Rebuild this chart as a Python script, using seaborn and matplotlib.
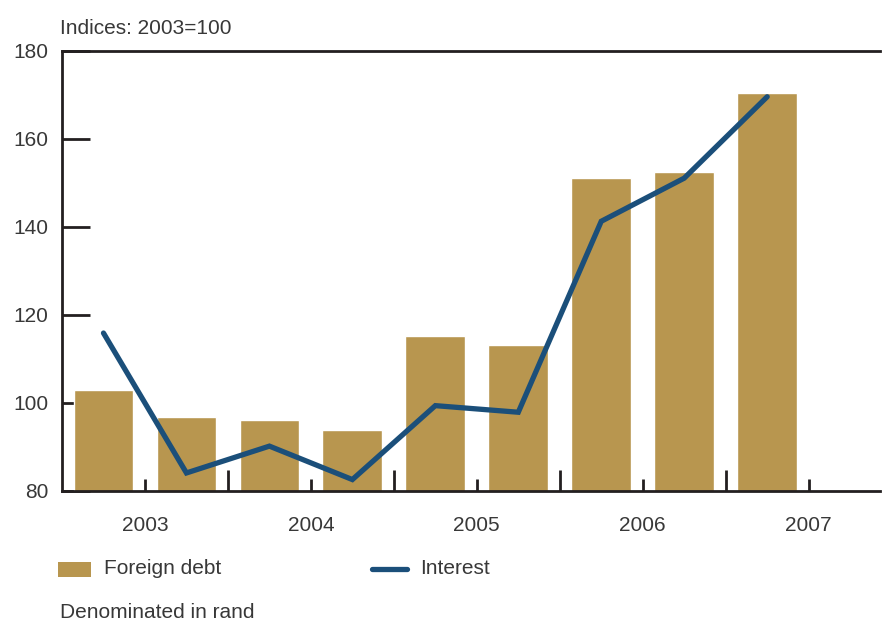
import matplotlib
matplotlib.use("Agg")
import matplotlib.pyplot as plt
import seaborn as sns
import pandas as pd
from matplotlib.patches import Rectangle
from matplotlib.lines import Line2D

# Half-yearly periods, 2003 H1 to 2007 H1
periods = ["2003H1", "2003H2", "2004H1", "2004H2", "2005H1",
           "2005H2", "2006H1", "2006H2", "2007H1"]
foreign_debt = [103.0, 96.9, 96.1, 93.9, 115.2, 113.2, 151.1, 152.4, 170.4]
interest = [115.9, 84.1, 90.2, 82.6, 99.4, 97.9, 141.3, 151.1, 169.6]
year_labels = ["2003", "2004", "2005", "2006", "2007"]
y_ticks = [80, 100, 120, 140, 160, 180]

BAR = "#B8964F"
LINE = "#1B4F7A"
TEXT = "#383838"
AXIS = "#231F20"
FS = 15

sns.set_theme(style="white")
plt.rcParams["font.family"] = ["Liberation Sans", "DejaVu Sans"]

df = pd.DataFrame({"period": periods, "debt": foreign_debt,
                   "interest": interest, "pos": range(len(periods))})

fig = plt.figure(figsize=(8.82, 6.22), dpi=100)
ax = fig.add_axes([62 / 882, 1 - 491 / 622, 818 / 882, 440 / 622])

sns.barplot(data=df, x="period", y="debt", order=periods, color=BAR,
            saturation=1, width=0.72, ax=ax, zorder=2)
sns.lineplot(data=df, x="pos", y="interest", color=LINE, linewidth=3.8,
             ax=ax, zorder=3, solid_capstyle="round", solid_joinstyle="miter")

ax.set_xlim(-0.5, 9.36)
ax.set_ylim(80, 180)
ax.set_xlabel("")
ax.set_ylabel("")

# Year labels sit mid-year; longer ticks mark the year boundaries
ax.set_xticks([0.5, 2.5, 4.5, 6.5, 8.5])
ax.set_xticklabels(year_labels)
ax.set_xticks([1.5, 3.5, 5.5, 7.5], minor=True)
ax.tick_params(axis="x", which="major", direction="in", length=9, width=2,
               color=AXIS, labelsize=FS, labelcolor=TEXT, pad=18, bottom=True)
ax.tick_params(axis="x", which="minor", direction="in", length=15, width=2,
               color=AXIS, bottom=True)

ax.set_yticks(y_ticks)
ax.tick_params(axis="y", which="major", direction="in", length=20, width=2,
               color=AXIS, labelsize=FS, labelcolor=TEXT, pad=10, left=True)

for side in ["left", "bottom", "top"]:
    ax.spines[side].set_visible(True)
    ax.spines[side].set_color(AXIS)
    ax.spines[side].set_linewidth(2)
ax.spines["right"].set_visible(False)

fig.text(60 / 882, 1 - 28 / 622, "Indices: 2003=100", fontsize=FS,
         color=TEXT, va="center", ha="left")

# Legend row
fig.add_artist(Rectangle((58 / 882, 1 - 577 / 622), 33 / 882, 15 / 622,
                         transform=fig.transFigure, color=BAR, lw=0))
fig.text(104 / 882, 1 - 569 / 622, "Foreign debt", fontsize=FS,
         color=TEXT, va="center", ha="left")
fig.add_artist(Line2D([372 / 882, 407 / 882], [1 - 569 / 622, 1 - 569 / 622],
                      transform=fig.transFigure, color=LINE, linewidth=3.8))
fig.text(420 / 882, 1 - 569 / 622, "Interest", fontsize=FS,
         color=TEXT, va="center", ha="left")
fig.text(60 / 882, 1 - 613 / 622, "Denominated in rand", fontsize=FS,
         color=TEXT, va="center", ha="left")

fig.savefig("out.png", dpi=100, facecolor="white")
